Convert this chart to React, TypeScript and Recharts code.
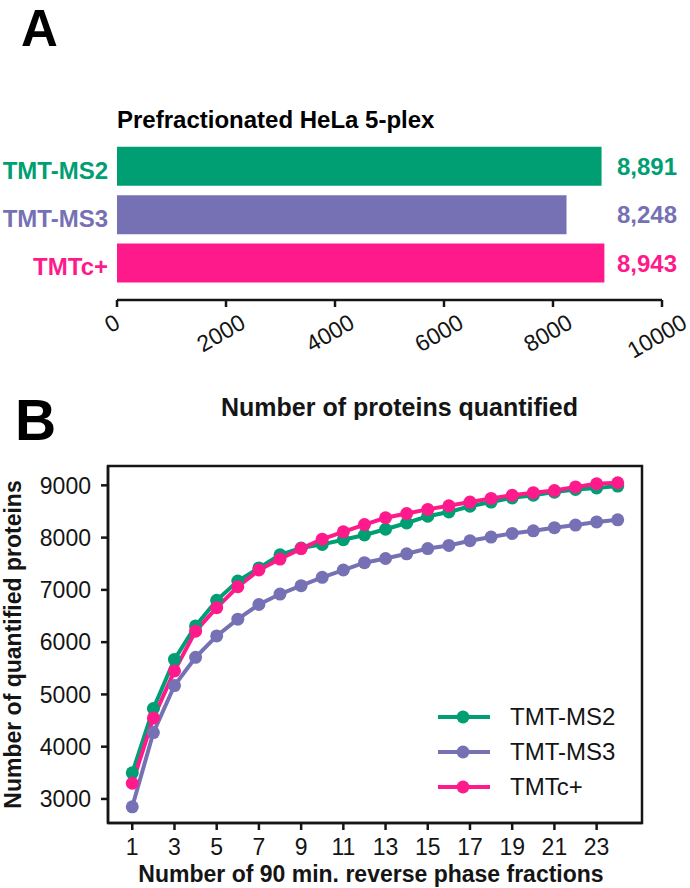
import React from 'react'
import {
  BarChart,
  Bar,
  Cell,
  LabelList,
  LineChart,
  Line,
  XAxis,
  YAxis,
  Legend,
  ReferenceArea,
} from 'recharts'

const FONT = '"Liberation Sans", Arial, Helvetica, sans-serif'
const INK = '#151515'

// panel A
const METHODS = ['TMT-MS2', 'TMT-MS3', 'TMTc+']
const METHOD_COLORS = ['#009E73', '#7671B4', '#FF1A8C']
const PROTEINS_TOTAL = [8891, 8248, 8943]
const BAR_TICKS = [0, 2000, 4000, 6000, 8000, 10000]

// panel B
const FRACTIONS = [1, 2, 3, 4, 5, 6, 7, 8, 9, 10, 11, 12, 13, 14, 15, 16, 17, 18, 19, 20, 21, 22, 23, 24]
const MS2_CUMULATIVE = [3500, 4730, 5670, 6310, 6800, 7170, 7420, 7670, 7800, 7870, 7960, 8050, 8160, 8280, 8410, 8490, 8600, 8680, 8760, 8810, 8870, 8920, 8950, 8985]
const MS3_CUMULATIVE = [2850, 4270, 5170, 5710, 6120, 6440, 6720, 6920, 7080, 7240, 7380, 7520, 7600, 7690, 7790, 7850, 7940, 8010, 8080, 8130, 8190, 8240, 8300, 8340]
const TMTC_CUMULATIVE = [3300, 4550, 5450, 6210, 6660, 7060, 7380, 7590, 7790, 7970, 8110, 8250, 8380, 8460, 8540, 8610, 8680, 8750, 8810, 8860, 8900, 8970, 9030, 9050]
const FRACTION_TICKS = [1, 3, 5, 7, 9, 11, 13, 15, 17, 19, 21, 23]
const PROTEIN_TICKS = [3000, 4000, 5000, 6000, 7000, 8000, 9000]

const X_DOMAIN: [number, number] = [-0.15, 25.15]
const Y_DOMAIN: [number, number] = [2540, 9370]

const VALUE_COLUMN_X = 617
const FRAME = { stroke: INK, strokeWidth: 2.5 }

const barData = METHODS.map((method, i) => ({
  method,
  total: PROTEINS_TOTAL[i],
  color: METHOD_COLORS[i],
}))

const lineData = FRACTIONS.map((fraction, i) => ({
  fraction,
  ms2: MS2_CUMULATIVE[i],
  ms3: MS3_CUMULATIVE[i],
  tmtc: TMTC_CUMULATIVE[i],
}))

const SERIES = [
  { key: 'ms2', name: 'TMT-MS2', color: METHOD_COLORS[0] },
  { key: 'ms3', name: 'TMT-MS3', color: METHOD_COLORS[1] },
  { key: 'tmtc', name: 'TMTc+', color: METHOD_COLORS[2] },
]

function RotatedTick({ x, y, payload }: any) {
  const label = String(payload.value)
  const size = 23
  const w = label.length * 0.556 * size
  const h = size * 0.72
  const boxH = w * 0.5 + h * 0.866
  const cx = x - 5
  const cy = y + 4 + boxH / 2
  return (
    <text
      x={cx}
      y={cy}
      transform={`rotate(-30, ${cx}, ${cy})`}
      textAnchor="middle"
      dominantBaseline="central"
      fontFamily={FONT}
      fontSize={size}
      fill={INK}
    >
      {label}
    </text>
  )
}

function MethodTick({ x, y, payload, index }: any) {
  return (
    <text
      x={x - 1}
      y={y + 4}
      textAnchor="end"
      dominantBaseline="central"
      fontFamily={FONT}
      fontSize={24}
      fontWeight="bold"
      fill={METHOD_COLORS[index] ?? INK}
    >
      {payload.value}
    </text>
  )
}

function ValueLabel(props: any) {
  const box = props.viewBox ?? props
  const y = Number(box.y ?? props.y) + Number(box.height ?? props.height) / 2
  const value = Number(props.value)
  return (
    <text
      x={VALUE_COLUMN_X}
      y={y}
      dominantBaseline="central"
      fontFamily={FONT}
      fontSize={24}
      fontWeight="bold"
      fill={METHOD_COLORS[props.index] ?? INK}
    >
      {value.toLocaleString('en-US')}
    </text>
  )
}

function SeriesLegend() {
  return (
    <div style={{ fontFamily: FONT, fontSize: 24, color: INK }}>
      {SERIES.map((s) => (
        <div key={s.key} style={{ display: 'flex', alignItems: 'center', height: 35 }}>
          <svg width={60} height={16} style={{ display: 'block' }}>
            <line x1={2} y1={8} x2={54} y2={8} stroke={s.color} strokeWidth={4} />
            <circle cx={27} cy={8} r={6.5} fill={s.color} />
          </svg>
          <span style={{ marginLeft: 14, lineHeight: '35px' }}>{s.name}</span>
        </div>
      ))}
    </div>
  )
}

export default function App() {
  return (
    <div
      style={{
        position: 'absolute',
        left: 0,
        top: 0,
        width: 690,
        height: 888,
        background: '#fff',
        fontFamily: FONT,
        overflow: 'hidden',
      }}
    >
      <div style={{ position: 'absolute', left: 0, top: 0 }}>
        <BarChart
          width={690}
          height={420}
          data={barData}
          layout="vertical"
          margin={{ top: 142, right: 28, left: 0, bottom: 0 }}
          barCategoryGap="10%"
        >
          <XAxis
            type="number"
            domain={[0, 10000]}
            ticks={BAR_TICKS}
            interval={0}
            height={120}
            tickSize={7}
            stroke={INK}
            axisLine={FRAME}
            tickLine={FRAME}
            tick={<RotatedTick />}
            label={{
              value: 'Number of proteins quantified',
              position: 'insideBottom',
              offset: 4,
              dx: 10,
              style: { fontFamily: FONT, fontSize: 25, fontWeight: 'bold', fill: INK },
            }}
          />
          <YAxis
            type="category"
            dataKey="method"
            width={117}
            axisLine={false}
            tickLine={false}
            tick={<MethodTick />}
            padding={{ top: 0, bottom: 13 }}
          />
          <Bar dataKey="total" isAnimationActive={false}>
            {barData.map((d) => (
              <Cell key={d.method} fill={d.color} />
            ))}
            <LabelList dataKey="total" content={<ValueLabel />} />
          </Bar>
        </BarChart>
      </div>

      <div style={{ position: 'absolute', left: 0, top: 440 }}>
        <LineChart
          width={690}
          height={448}
          data={lineData}
          margin={{ top: 26, right: 48, left: 0, bottom: 0 }}
        >
          <XAxis
            type="number"
            dataKey="fraction"
            domain={X_DOMAIN}
            ticks={FRACTION_TICKS}
            interval={0}
            height={65}
            tickSize={7}
            tickMargin={9}
            stroke={INK}
            axisLine={FRAME}
            tickLine={FRAME}
            tick={{ fontFamily: FONT, fontSize: 23, fill: INK }}
            label={{
              value: 'Number of 90 min. reverse phase fractions',
              position: 'insideBottom',
              offset: 6,
              dx: -4,
              style: { fontFamily: FONT, fontSize: 23, fontWeight: 'bold', fill: INK },
            }}
          />
          <YAxis
            type="number"
            domain={Y_DOMAIN}
            ticks={PROTEIN_TICKS}
            interval={0}
            width={108}
            tickSize={7}
            tickMargin={10}
            stroke={INK}
            axisLine={FRAME}
            tickLine={FRAME}
            tick={{ fontFamily: FONT, fontSize: 23, fill: INK }}
            label={{
              value: 'Number of quantified proteins',
              angle: -90,
              position: 'insideLeft',
              offset: 13,
              style: { fontFamily: FONT, fontSize: 23, fontWeight: 'bold', fill: INK, textAnchor: 'middle' },
            }}
          />
          <ReferenceArea
            x1={X_DOMAIN[0]}
            x2={X_DOMAIN[1]}
            y1={Y_DOMAIN[0]}
            y2={Y_DOMAIN[1]}
            fill="none"
            fillOpacity={0}
            stroke={INK}
            strokeWidth={2.5}
            ifOverflow="visible"
          />
          <Legend
            layout="vertical"
            align="center"
            verticalAlign="middle"
            content={<SeriesLegend />}
            wrapperStyle={{ left: 436, top: 259, width: 'auto', height: 'auto' }}
          />
          {SERIES.map((s) => (
            <Line
              key={s.key}
              type="linear"
              dataKey={s.key}
              name={s.name}
              stroke={s.color}
              strokeWidth={4}
              dot={{ r: 6.5, fill: s.color, stroke: s.color, strokeWidth: 0 }}
              activeDot={false}
              isAnimationActive={false}
            />
          ))}
        </LineChart>
      </div>

      <svg
        width={690}
        height={888}
        style={{ position: 'absolute', left: 0, top: 0, pointerEvents: 'none' }}
      >
        <text x={21} y={46} fontFamily={FONT} fontSize={51} fontWeight="bold" fill="#000">
          A
        </text>
        <text x={117} y={128} fontFamily={FONT} fontSize={24} fontWeight="bold" fill="#000">
          Prefractionated HeLa 5-plex
        </text>
        <text x={15} y={440} fontFamily={FONT} fontSize={57} fontWeight="bold" fill="#000">
          B
        </text>
      </svg>
    </div>
  )
}
